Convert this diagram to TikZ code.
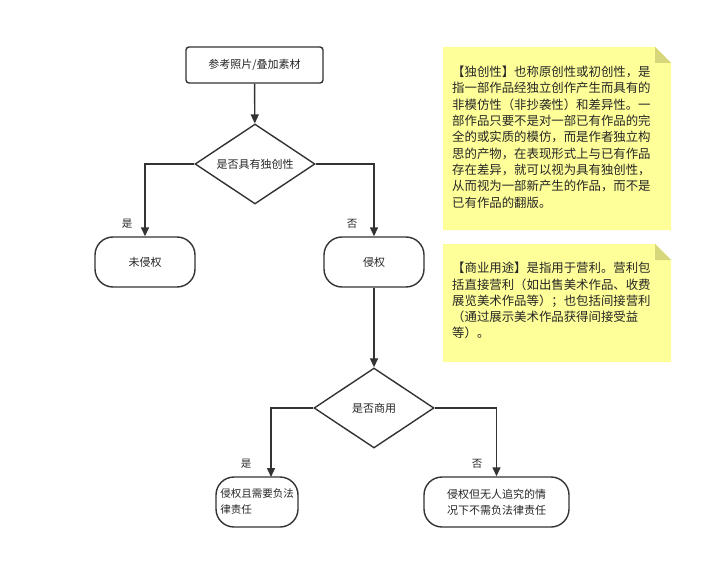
\documentclass[tikz,border=0pt]{standalone}
\usepackage{fontspec}
\setmainfont{Noto Sans CJK SC}
\usetikzlibrary{shapes.geometric,arrows.meta}
\definecolor{notey}{HTML}{FFFF99}
\definecolor{foldy}{HTML}{D6D67A}
\begin{document}
\begin{tikzpicture}[x=1pt,y=-1pt,
  every node/.style={font=\fontsize{11}{16}\selectfont,text=black!85},
  ln/.style={draw=black!80,line width=1.4pt},
  arr/.style={ln,-{Triangle[length=9pt,width=8pt]}},
  rbox/.style={ln,fill=white,rounded corners=3pt,minimum width=137pt,minimum height=36pt},
  pill/.style={ln,fill=white,rounded corners=18pt,minimum width=100pt,minimum height=50pt,align=center},
  dia/.style={ln,fill=white,diamond,aspect=1.5,minimum width=120pt,minimum height=80pt,inner sep=0pt},
  note/.style={fill=notey,draw=none},
  fold/.style={fill=foldy,draw=none},
  ntext/.style={anchor=north west,align=left,inner sep=0pt,font=\fontsize{12.4}{16.3}\selectfont},
  lbl/.style={font=\fontsize{10.5}{12}\selectfont}]
\useasboundingbox (0,0) rectangle (703,561);
\node[rbox] (src) at (254.5,65) {参考照片/叠加素材};
\node[dia] (d1) at (255,164) {是否具有独创性};
\node[pill] (no) at (145,262) {未侵权};
\node[pill] (yes) at (374,262) {侵权};
\node[dia] (d2) at (374,408) {是否商用};
\node[pill,minimum width=82pt,inner xsep=2pt,align=left,font=\fontsize{10.5}{16}\selectfont] (liab) at (257,502) {侵权且需要负法\\律责任};
\node[pill,minimum width=145pt,align=left] (nol) at (496.5,502) {侵权但无人追究的情\\况下不需负法律责任};
\draw[arr] (src) -- (d1);
\draw[arr] (d1.west) -| (no.north);
\draw[arr] (d1.east) -| (yes.north);
\draw[arr] (yes) -- (d2);
\coordinate (lt) at (271,477);
\draw[arr] (d2.west) -| (lt);
\draw[arr] (d2.east) -| (nol.north);
\node[lbl] (l1) at (127,224) {是};
\node[lbl] (l2) at (352,224) {否};
\node[lbl] (l3) at (246,464) {是};
\node[lbl] (l4) at (477,464) {否};
% notes
\fill[note] (443,47) -- (655,47) -- (671,63) -- (671,230) -- (443,230) -- cycle;
\fill[fold] (655,47) -- (671,63) -- (655,63) -- cycle;
\node[ntext] (n1) at (452,66) {【独创性】也称原创性或初创性，是\\指一部作品经独立创作产生而具有的\\非模仿性（非抄袭性）和差异性。一\\部作品只要不是对一部已有作品的完\\全的或实质的模仿，而是作者独立构\\思的产物，在表现形式上与已有作品\\存在差异，就可以视为具有独创性，\\从而视为一部新产生的作品，而不是\\已有作品的翻版。};
\fill[note] (443,244) -- (655,244) -- (671,260) -- (671,362) -- (443,362) -- cycle;
\fill[fold] (655,244) -- (671,260) -- (655,260) -- cycle;
\node[ntext] (n2) at (452,262) {【商业用途】是指用于营利。营利包\\括直接营利（如出售美术作品、收费\\展览美术作品等）；也包括间接营利\\（通过展示美术作品获得间接受益\\等）。};
\end{tikzpicture}
\end{document}
